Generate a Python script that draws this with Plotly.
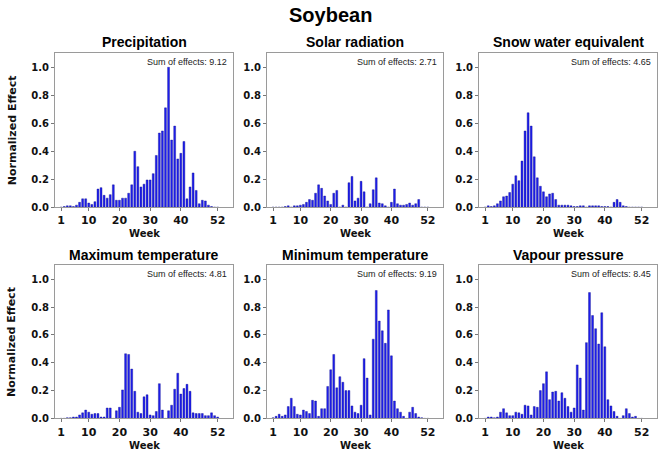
import plotly.graph_objects as go
from plotly.subplots import make_subplots

weeks = list(range(1, 53))

precipitation = [0, 0.005, 0.01, 0.01, 0.005, 0.015, 0.035, 0.06, 0.06, 0.03,
                 0.02, 0.04, 0.13, 0.14, 0.085, 0.065, 0.09, 0.16, 0.05, 0.05,
                 0.065, 0.065, 0.1, 0.16, 0.40, 0.29, 0.145, 0.165, 0.195, 0.195,
                 0.24, 0.37, 0.53, 0.545, 0.71, 1.0, 0.48, 0.58, 0.345, 0.385,
                 0.47, 0.06, 0.145, 0.245, 0.12, 0.025, 0.05, 0.045, 0.015, 0.005,
                 0, 0]

solar_radiation = [0, 0, 0, 0, 0.005, 0.01, 0, 0.01, 0.01, 0.015,
                   0.02, 0.035, 0.055, 0.05, 0.1, 0.16, 0.135, 0.08, 0.045, 0.02,
                   0.1, 0.12, 0, 0.015, 0, 0.175, 0.22, 0.045, 0.065, 0.185,
                   0.11, 0, 0.025, 0.125, 0.21, 0.03, 0.025, 0.01, 0, 0.035,
                   0.13, 0.025, 0.015, 0.015, 0.02, 0.03, 0.015, 0.025, 0.055, 0,
                   0, 0]

snow_water_equivalent = [0, 0.01, 0.005, 0.01, 0.025, 0.045, 0.075, 0.08, 0.105, 0.165,
                         0.225, 0.19, 0.33, 0.545, 0.675, 0.58, 0.36, 0.21, 0.15, 0.11,
                         0.075, 0.095, 0.1, 0.055, 0.015, 0.015, 0.015, 0.015, 0.01, 0.005,
                         0.005, 0.01, 0.01, 0, 0.01, 0.01, 0.01, 0.01, 0.005, 0.005,
                         0.005, 0, 0.035, 0.055, 0.035, 0.01, 0.005, 0, 0, 0,
                         0, 0]

maximum_temperature = [0, 0, 0.005, 0.005, 0.01, 0.01, 0.025, 0.04, 0.06, 0.045,
                       0.03, 0.035, 0.035, 0.01, 0.01, 0.075, 0.075, 0, 0.055, 0.08,
                       0.205, 0.465, 0.46, 0.355, 0.195, 0.045, 0.035, 0.155, 0.17, 0.025,
                       0.02, 0.05, 0.25, 0.06, 0, 0.055, 0.095, 0.21, 0.325, 0.175,
                       0.215, 0.245, 0.195, 0.04, 0.035, 0.035, 0.035, 0.02, 0.02, 0.04,
                       0.02, 0.01]

minimum_temperature = [0.005, 0.015, 0.03, 0.015, 0.025, 0.085, 0.145, 0.085, 0.03, 0.025,
                       0.06, 0.05, 0.035, 0.13, 0.125, 0.015, 0.07, 0.07, 0.23, 0.35,
                       0.46, 0.22, 0.3, 0.26, 0.2, 0.2, 0.09, 0.045, 0.035, 0.095,
                       0.43, 0.29, 0.025, 0.57, 0.92, 0.70, 0.63, 0.54, 0.78, 0.45,
                       0.125, 0.07, 0.045, 0.015, 0, 0.045, 0.08, 0.035, 0.01, 0.005,
                       0, 0]

vapour_pressure = [0, 0.01, 0.01, 0.005, 0.01, 0.045, 0.07, 0.04, 0.02, 0.02,
                   0.045, 0.04, 0.03, 0.095, 0.09, 0.025, 0.085, 0.08, 0.2, 0.25,
                   0.335, 0.135, 0.19, 0.195, 0.125, 0.185, 0.145, 0.085, 0.045, 0.075,
                   0.385, 0.29, 0.06, 0.545, 0.905, 0.74, 0.645, 0.535, 0.76, 0.515,
                   0.135, 0.09, 0.05, 0.015, 0, 0.02, 0.07, 0.035, 0.01, 0.015,
                   0, 0]

panel_titles = ["Precipitation", "Solar radiation", "Snow water equivalent",
                "Maximum temperature", "Minimum temperature", "Vapour pressure"]
sum_labels = ["9.12", "2.71", "4.65", "4.81", "9.19", "8.45"]
series = [precipitation, solar_radiation, snow_water_equivalent,
          maximum_temperature, minimum_temperature, vapour_pressure]
x_tick_vals = [1, 10, 20, 30, 40, 52]
x_tick_text = ["1", "10", "20", "30", "40", "52"]
y_tick_vals = [0, 0.2, 0.4, 0.6, 0.8, 1.0]
y_tick_text = ["0.0", "0.2", "0.4", "0.6", "0.8", "1.0"]

W, H = 661, 456


def px(p):
    return p / W


def py(p):
    return 1 - p / H


xdoms = [(55, 233), (267, 443), (479, 657)]
ydoms = [(54, 210), (269, 424)]  # pixel top, bottom

fig = make_subplots(rows=2, cols=3)

TICKFONT = dict(family="DejaVu Sans", size=10, color="#111", weight="bold")
annotations = []
for i, vals in enumerate(series):
    r, c = divmod(i, 3)
    fig.add_trace(go.Bar(x=weeks, y=vals, width=0.62,
                         marker=dict(color="rgb(30,30,240)",
                                     line=dict(color="rgb(15,15,140)", width=0.4)),
                         showlegend=False), row=r + 1, col=c + 1)
    x0, x1 = xdoms[c]
    top, bot = ydoms[r]
    idx = "" if i == 0 else str(i + 1)
    fig.layout["xaxis" + idx].update(
        domain=[px(x0), px(x1)], range=[-1, 57], tickvals=x_tick_vals, ticktext=x_tick_text,
        showline=True, linecolor="#9a9a9a", linewidth=1, mirror=True,
        ticks="outside", ticklen=3, tickcolor="#777", showgrid=False, zeroline=False,
        tickfont=dict(family="DejaVu Sans", size=11, color="#111", weight="bold"))
    fig.layout["yaxis" + idx].update(
        domain=[py(bot), py(top)], range=[0, 1.1], tickvals=y_tick_vals, ticktext=y_tick_text,
        showline=True, linecolor="#9a9a9a", linewidth=1, mirror=True,
        ticks="outside", ticklen=3, tickcolor="#777", showgrid=False, zeroline=False,
        tickfont=TICKFONT)
    cx = px((x0 + x1) / 2)
    annotations.append(dict(text=panel_titles[i], x=cx, y=py(top - 11),
                            xref="paper", yref="paper", xanchor="center", yanchor="middle",
                            showarrow=False,
                            font=dict(family="Liberation Sans", size=14, color="#000", weight="bold")))
    annotations.append(dict(text="Sum of effects: " + sum_labels[i],
                            x=px(x1 - 4), y=py(top + 2),
                            xref="paper", yref="paper", xanchor="right", yanchor="top",
                            showarrow=False,
                            font=dict(family="Liberation Sans", size=9, color="#222")))
    annotations.append(dict(text="Week", x=cx, y=py(bot + 27),
                            xref="paper", yref="paper", xanchor="center", yanchor="middle",
                            showarrow=False,
                            font=dict(family="DejaVu Sans", size=10, color="#111", weight="bold")))

for r in range(2):
    top, bot = ydoms[r]
    annotations.append(dict(text="Normalized Effect", x=px(12), y=py((top + bot) / 2),
                            xref="paper", yref="paper", xanchor="center", yanchor="middle",
                            textangle=-90, showarrow=False,
                            font=dict(family="DejaVu Sans", size=11, color="#111", weight="bold")))

annotations.append(dict(text="Soybean", x=px(330), y=py(15), xref="paper", yref="paper",
                        xanchor="center", yanchor="middle", showarrow=False,
                        font=dict(family="Liberation Sans", size=20, color="#000", weight="bold")))

fig.update_layout(width=W, height=H, margin=dict(l=0, r=0, t=0, b=0),
                  paper_bgcolor="white", plot_bgcolor="white",
                  annotations=annotations, bargap=0.3)

fig.write_html("out.html", config={"displayModeBar": False},
               post_script="document.body.style.margin='0px';document.body.style.overflow='hidden';")
